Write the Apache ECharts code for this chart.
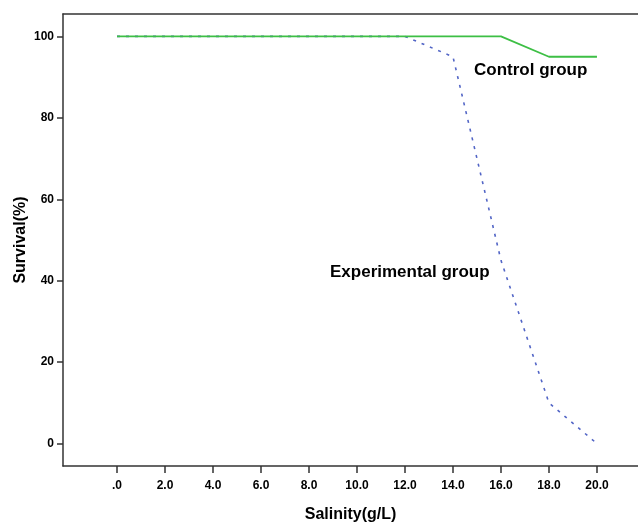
<!DOCTYPE html>
<html>
<head>
<meta charset="utf-8">
<script src="https://cdn.jsdelivr.net/npm/echarts@6/dist/echarts.min.js"></script>
<style>
  html, body { margin: 0; padding: 0; background: #fff; }
  #chart { width: 638px; height: 523px; }
</style>
</head>
<body>
<div id="chart"></div>
<script>
// salinity levels (g/L)
const salinity = [0, 2, 4, 6, 8, 10, 12, 14, 16, 18, 20];
// survival (%)
const controlGroup = [100, 100, 100, 100, 100, 100, 100, 100, 100, 95, 95];
const experimentalGroup = [100, 100, 100, 100, 100, 100, 100, 95, 45, 10, 0];
const xTicks = [0, 2, 4, 6, 8, 10, 12, 14, 16, 18, 20];
const yTicks = [0, 20, 40, 60, 80, 100];

const tickFont = {
  fontFamily: '"Liberation Sans", Arial, sans-serif',
  fontWeight: 'bold',
  fontSize: 12,
  color: '#000'
};
const titleFont = {
  fontFamily: '"Liberation Sans", Arial, sans-serif',
  fontWeight: 'bold',
  fontSize: 16,
  color: '#000'
};
const axisLineStyle = { color: '#333', width: 1.5 };
const noteFont = 'bold 17px "Liberation Sans", Arial, sans-serif';

const pair = (xs, ys) => xs.map((x, i) => [x, ys[i]]);

const chart = echarts.init(document.getElementById('chart'));
chart.setOption({
  animation: false,
  grid: { left: 63, top: 14, right: 0, bottom: 57, outerBoundsMode: 'none', containLabel: false },
  xAxis: [
    {
      type: 'value',
      min: -2.25,
      max: 21.71,
      name: 'Salinity(g/L)',
      nameLocation: 'middle',
      nameGap: 41,
      nameTextStyle: titleFont,
      splitLine: { show: false },
      axisLine: { show: true, onZero: false, lineStyle: axisLineStyle },
      axisTick: { show: true, customValues: xTicks, length: 7, lineStyle: axisLineStyle },
      axisLabel: Object.assign({
        customValues: xTicks,
        margin: 14,
        formatter: v => (v === 0 ? '.0' : v.toFixed(1))
      }, tickFont)
    },
    {
      // top frame line
      type: 'value',
      position: 'top',
      min: -2.25,
      max: 21.71,
      splitLine: { show: false },
      axisLine: { show: true, onZero: false, lineStyle: axisLineStyle },
      axisTick: { show: false },
      axisLabel: { show: false }
    }
  ],
  yAxis: {
    type: 'value',
    min: -5.5,
    max: 105.5,
    name: 'Survival(%)',
    nameLocation: 'middle',
    nameGap: 34,
    nameMoveOverlap: false,
    nameTextStyle: titleFont,
    splitLine: { show: false },
    axisLine: { show: true, onZero: false, lineStyle: axisLineStyle },
    axisTick: { show: true, customValues: yTicks, length: 6, lineStyle: axisLineStyle },
    axisLabel: Object.assign({ customValues: yTicks, margin: 9 }, tickFont)
  },
  series: [
    {
      name: 'Experimental group',
      type: 'line',
      data: pair(salinity, experimentalGroup),
      showSymbol: false,
      lineStyle: { color: '#5265c6', width: 1.6, type: [3, 6] }
    },
    {
      name: 'Control group',
      type: 'line',
      data: pair(salinity, controlGroup),
      showSymbol: false,
      lineStyle: { color: '#3dbf45', width: 1.8 }
    }
  ],
  graphic: [
    { type: 'text', left: 474, top: 62, style: { text: 'Control group', font: noteFont, fill: '#000' } },
    { type: 'text', left: 330, top: 264, style: { text: 'Experimental group', font: noteFont, fill: '#000' } }
  ]
});
</script>
</body>
</html>
